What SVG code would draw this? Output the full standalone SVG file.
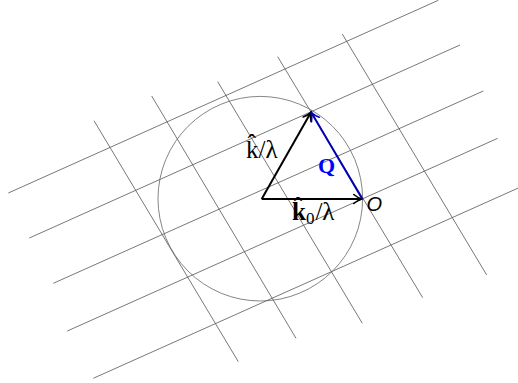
<svg xmlns="http://www.w3.org/2000/svg" width="518" height="383" viewBox="0 0 518 383">
<style>
.lat{stroke:#555;stroke-width:0.8;fill:none}
.circ{stroke:#666;stroke-width:0.8;fill:none}
.vec{stroke:#000;stroke-width:2;fill:none}
.vq{stroke:#0000b4;stroke-width:2;fill:none}
.lbl{font-family:"Liberation Serif","DejaVu Serif",serif;font-size:25px;fill:#000}
</style>
<defs>
<marker id="ah" viewBox="-10 -6 12 12" refX="0" refY="0" markerWidth="12" markerHeight="12" markerUnits="userSpaceOnUse" orient="auto">
<path d="M-8,-4.5 C-5,-2 -1.5,-0.5 0,0 C-1.5,0.5 -5,2 -8,4.5" fill="none" stroke="#000" stroke-width="1.6" stroke-linecap="round"/>
</marker>
<marker id="ahb" viewBox="-10 -6 12 12" refX="0" refY="0" markerWidth="12" markerHeight="12" markerUnits="userSpaceOnUse" orient="auto">
<path d="M-8,-4.5 C-5,-2 -1.5,-0.5 0,0 C-1.5,0.5 -5,2 -8,4.5" fill="none" stroke="#0000b4" stroke-width="1.6" stroke-linecap="round"/>
</marker>
</defs>
<g id="lattice">
<line class="lat" x1="8.3" y1="193" x2="438.3" y2="0.3"/>
<line class="lat" x1="29.3" y1="238" x2="460" y2="45"/>
<line class="lat" x1="53.3" y1="283.3" x2="483.3" y2="91"/>
<line class="lat" x1="67.3" y1="331" x2="497.7" y2="138.3"/>
<line class="lat" x1="93.3" y1="378.3" x2="523.7" y2="185.6"/>
<line class="lat" x1="94" y1="120.7" x2="238.3" y2="361.7"/>
<line class="lat" x1="151.7" y1="96" x2="296" y2="338.3"/>
<line class="lat" x1="217.7" y1="81.7" x2="362.3" y2="323.3"/>
<line class="lat" x1="277.7" y1="56.7" x2="422.7" y2="297.7"/>
<line class="lat" x1="342.3" y1="34" x2="486.7" y2="275"/>
</g>
<g id="ewald-sphere">
<circle class="circ" cx="260.3" cy="198.7" r="102.3"/>
</g>
<g id="connectors">
<line class="vec" x1="261.7" y1="199" x2="361.8" y2="199" marker-end="url(#ah)"/>
<line class="vec" x1="261.7" y1="199" x2="311" y2="112.3" marker-end="url(#ah)"/>
<line class="vq" x1="362.2" y1="198.8" x2="311.3" y2="112.6" marker-end="url(#ahb)"/>
</g>
<g id="label-k">
<text class="lbl" x="246" y="157.5">k̂/λ</text>
</g>
<g id="label-k0">
<text class="lbl" x="292" y="219.5"><tspan font-weight="bold">k̂</tspan><tspan font-size="17" dy="4">0</tspan><tspan dy="-4" dx="1">/λ</tspan></text>
</g>
<g id="label-Q">
<text x="318" y="172.5" font-family="Liberation Serif, DejaVu Serif, serif" font-size="22" font-weight="bold" fill="#0000ff">Q</text>
</g>
<g id="label-O">
<text x="366.5" y="211" font-family="Liberation Sans, DejaVu Sans, sans-serif" font-size="20" font-style="italic" fill="#000">O</text>
</g>
</svg>
